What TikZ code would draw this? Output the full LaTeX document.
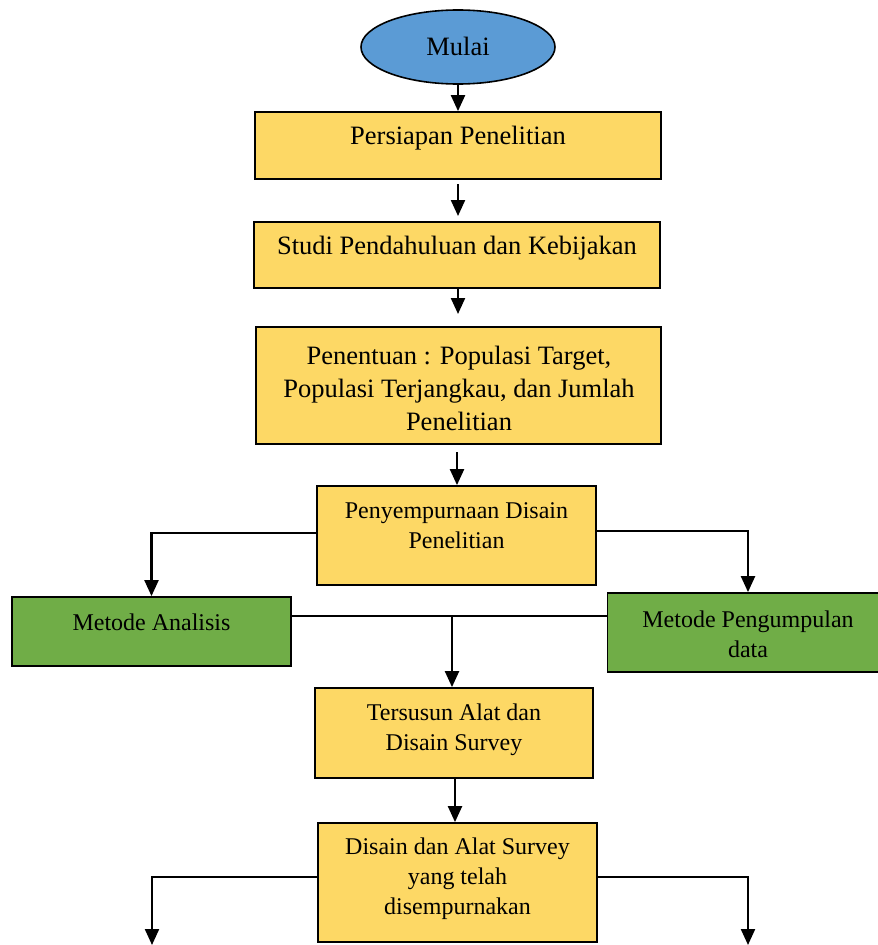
\documentclass[tikz,border=0pt]{standalone}
\usepackage{fontspec}
\setmainfont{Liberation Serif}
\usetikzlibrary{shapes.geometric,arrows.meta}
\definecolor{boxyellow}{HTML}{FDD865}
\definecolor{startblue}{HTML}{5B9BD5}
\definecolor{methgreen}{HTML}{70AD47}
\begin{document}
\begin{tikzpicture}[x=1pt,y=-1pt,
  box/.style={draw=black,line width=1.8pt,fill=boxyellow,inner sep=0pt},
  greenbox/.style={draw=black,line width=1.8pt,fill=methgreen,inner sep=0pt},
  bigtext/.style={align=center,inner sep=0pt,font=\fontsize{26.5}{33}\selectfont},
  smalltext/.style={align=center,inner sep=0pt,font=\fontsize{24}{30}\selectfont},
  flow/.style={line width=2.2pt,-{Triangle[length=16pt,width=14pt]}},
  link/.style={line width=2.2pt}]
\useasboundingbox (0,0) rectangle (878,945);

% start oval
\node[ellipse,draw=black,line width=1.6pt,fill=startblue,minimum width=194pt,minimum height=74pt,inner sep=0pt] (start) at (458,47) {};
\node[bigtext] (tstart) at (458,46) {Mulai};

% main column boxes
\node[box,minimum width=406pt,minimum height=67pt] (prep) at (458,145.5) {};
\node[bigtext] (tprep) at (458,138) {Persiapan Penelitian};

\node[box,minimum width=406pt,minimum height=66pt] (studi) at (457,255) {};
\node[bigtext] (tstudi) at (457,248) {Studi Pendahuluan dan Kebijakan};

\node[box,minimum width=405pt,minimum height=117pt] (popul) at (458.5,385.5) {};
\node[bigtext] (tpopul) at (459,388) {Penentuan : Populasi Target,\\Populasi Terjangkau, dan Jumlah\\Penelitian};

\node[box,minimum width=279pt,minimum height=99pt] (sempurna) at (456.5,535.5) {};
\node[smalltext] (tsempurna) at (456.5,526) {Penyempurnaan Disain\\Penelitian};

% method boxes
\node[greenbox,minimum width=279pt,minimum height=69pt] (analisis) at (151.5,631.5) {};
\node[smalltext] (tanalisis) at (151.5,622) {Metode Analisis};

\node[greenbox,minimum width=272pt,minimum height=79pt] (kumpul) at (743.5,632.5) {};
\node[smalltext] (tkumpul) at (748,634) {Metode Pengumpulan\\data};

% lower boxes
\node[box,minimum width=278pt,minimum height=90pt] (tersusun) at (454,733) {};
\node[smalltext] (ttersusun) at (454,730) {Tersusun Alat dan\\Disain Survey};

\node[box,minimum width=279pt,minimum height=119pt] (final) at (457.5,882.5) {};
\node[smalltext] (tfinal) at (457.5,879) {Disain dan Alat Survey\\yang telah\\disempurnakan};

% free arrow ends
\coordinate (gapA) at (458,184);
\coordinate (gapB) at (458,216);
\coordinate (toPop) at (458,314);
\coordinate (fromPop) at (457,452);
\coordinate (merge) at (452,616);
\coordinate (outL) at (152,945);
\coordinate (outR) at (748,945);

% connectors (shifts are in page units: positive moves up)
\draw[flow] (start) -- (prep);
\draw[flow] (gapA) -- (gapB);
\draw[flow] (studi.south -| toPop) -- (toPop);
\draw[flow] (fromPop) -- (sempurna.north -| fromPop);
\draw[flow] ([yshift=2.5pt]sempurna.west) -| (analisis.north);
\draw[flow] ([yshift=4.5pt]sempurna.east) -| ([xshift=4.5pt]kumpul.north);
\draw[link] (analisis.east |- merge) -- (kumpul.west |- merge);
\draw[flow] (merge) -- (merge |- tersusun.north);
\draw[flow] (tersusun.south -| 455,0) -- (final.north -| 455,0);
\draw[flow] ([yshift=5.5pt]final.west) -| (outL);
\draw[flow] ([yshift=5.5pt]final.east) -| (outR);
\end{tikzpicture}
\end{document}
